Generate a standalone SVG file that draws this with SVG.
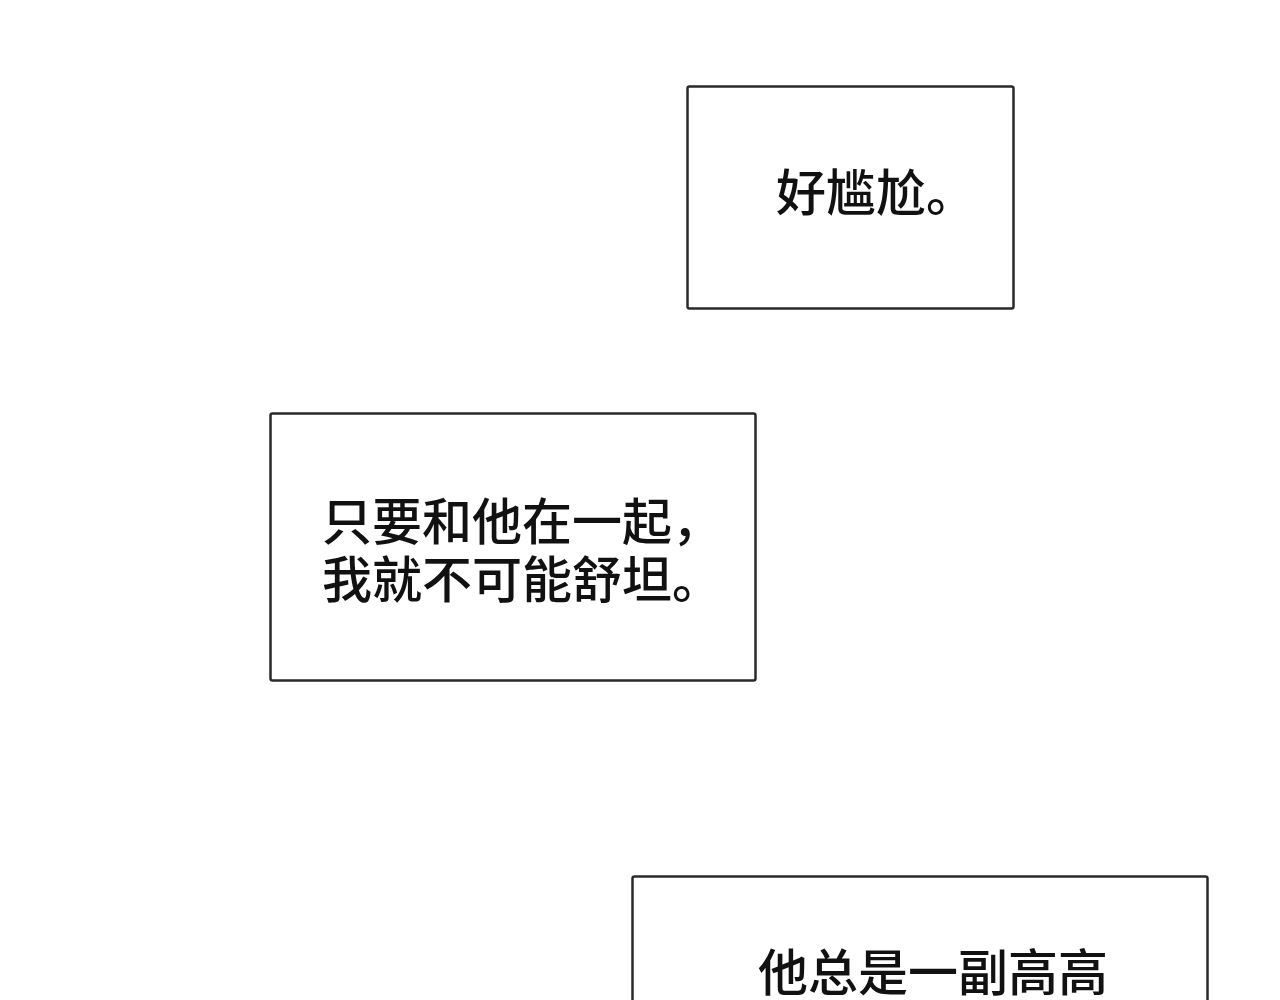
<svg xmlns="http://www.w3.org/2000/svg" width="1280" height="1000" viewBox="0 0 1280 1000">
<style>
.box{fill:#fff;stroke:#2a2a2a;stroke-width:2.5}
.t{font-family:"Noto Sans CJK SC","Noto Sans",sans-serif;font-size:50px;font-weight:500;fill:#111}
</style>
<rect width="1280" height="1000" fill="#fff"/>
<g id="box1"><rect class="box" x="687.5" y="86.5" width="326" height="222" rx="2"/>
<text class="t" x="776" y="211">好尴尬。</text></g>
<g id="box2"><rect class="box" x="270.5" y="413.5" width="485" height="267" rx="2"/>
<text class="t" x="322" y="540">只要和他在一起，</text>
<text class="t" x="322" y="598">我就不可能舒坦。</text></g>
<g id="box3"><rect class="box" x="632.5" y="876.5" width="575" height="140" rx="2"/>
<text class="t" x="758" y="991">他总是一副高高</text></g>
<g id="connectors"/>
</svg>
